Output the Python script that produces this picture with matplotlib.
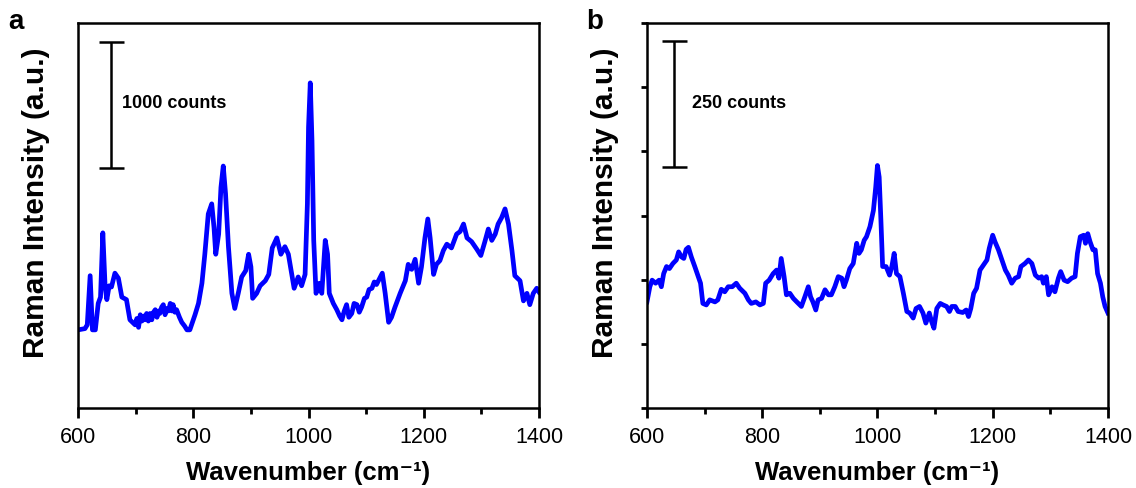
import matplotlib
matplotlib.use('Agg')
import matplotlib.pyplot as plt
from matplotlib.ticker import MultipleLocator

plt.rcParams['font.family'] = ['Liberation Sans', 'DejaVu Sans']

# panel a: wavenumber (cm-1) and counts
wn_a = [600, 612, 616, 621, 625, 630, 635, 639, 643, 647, 650, 654, 658, 664, 670,
        676, 684, 690, 699, 702, 705, 708, 711, 714, 716, 719, 722, 725, 728, 731,
        734, 737, 740, 742, 745, 748, 751, 754, 757, 760, 763, 765, 768, 771, 776,
        780, 785, 789,
        794, 803, 809, 815, 820, 826, 832, 836, 839, 844, 848, 852, 856, 861, 867,
        872, 878, 884, 891, 896, 900, 903, 910, 916, 925, 931, 937, 945, 952, 959,
        965, 971, 975, 982, 988, 994, 998, 1000, 1003, 1006, 1009, 1013, 1019, 1023,
        1029, 1033, 1036, 1043, 1049, 1054, 1058, 1062, 1066, 1070, 1075, 1079, 1084,
        1088, 1092, 1097, 1101, 1105, 1110, 1114, 1118,
        1128, 1133, 1139, 1144, 1150, 1159, 1168, 1173, 1179, 1185, 1191, 1196, 1202,
        1207, 1211, 1217, 1222, 1228, 1234, 1240, 1248, 1257, 1263, 1269, 1275, 1283,
        1292, 1299, 1306, 1312, 1318, 1324, 1329, 1335, 1341, 1347, 1353, 1358, 1367,
        1373, 1379, 1384, 1390, 1396, 1400]
counts_a = [620, 630, 660, 1050, 620, 620, 830, 880, 1390, 960, 860, 970, 960, 1070, 1030,
            880, 860, 700, 660, 710, 640, 740, 690, 730, 700, 750, 690, 750, 700, 760,
            780, 720, 770, 750, 800, 820, 740, 790, 770, 830, 770, 820, 760, 780, 720,
            680, 650, 620,
            620, 740, 830, 990, 1220, 1540, 1620, 1430, 1220, 1380, 1750, 1920, 1700, 1280, 910,
            790, 910, 1040, 1090, 1220, 1120, 870, 910, 970, 1010, 1060, 1270, 1350, 1220, 1280,
            1220, 1060, 950, 1040, 970, 1060, 1620, 2230, 2580, 2120, 1330, 910, 990, 910,
            1330, 1220, 910, 830, 780, 730, 700, 770, 820, 720, 750, 830, 820,
            760, 800, 870, 880, 940, 950, 1000, 980,
            1070, 910, 680, 720, 800, 910, 1010, 1140, 1100, 1180, 990, 1120, 1350,
            1500, 1350, 1060, 1140, 1170, 1250, 1300, 1270, 1380, 1400, 1460, 1350, 1320,
            1260, 1210, 1320, 1420, 1330, 1380, 1460, 1510, 1580, 1460, 1250, 1050, 1010,
            850, 910, 820, 910, 950, 920]

# panel b
wn_b = [600, 605, 609, 615, 621, 625, 629, 634, 639, 645, 651, 655, 660, 664, 668,
        672, 677, 683, 689, 693, 697, 703, 709, 718, 723, 729, 735, 741, 748, 755,
        761, 770, 776, 781, 789, 796, 802, 806, 812, 819, 825, 829, 833, 838, 842,
        848, 854, 860, 868, 874, 880, 884, 888, 893, 897, 903, 909, 915, 920, 926,
        932, 938, 942, 946, 952, 958, 964, 968, 972, 977, 981, 987, 993, 997, 1000,
        1003, 1006, 1009, 1015, 1021, 1025, 1029, 1033, 1039, 1045, 1051, 1056, 1062,
        1067, 1073, 1079, 1084, 1090, 1094, 1098, 1103, 1109, 1114, 1120, 1125, 1129,
        1135, 1140, 1148, 1154, 1158, 1162, 1167, 1172, 1178, 1184, 1190, 1194, 1200,
        1204, 1210, 1216, 1222, 1227, 1233, 1239, 1245, 1249, 1256, 1262, 1268, 1274,
        1280, 1285, 1288, 1293, 1297, 1303, 1308, 1314, 1318, 1324, 1330, 1337, 1343,
        1347, 1352, 1358, 1361, 1365, 1369, 1374, 1378, 1382, 1387, 1391, 1395, 1400]
counts_b = [210, 240, 253, 247, 253, 240, 266, 280, 276, 286, 293, 309, 299, 296, 314,
            318, 299, 280, 260, 247, 207, 204, 214, 210, 214, 235, 230, 240, 240, 247,
            237, 227, 214, 207, 210, 204, 207, 247, 253, 266, 273, 257, 296, 260, 224,
            227, 217, 210, 201, 220, 240, 220, 210, 194, 214, 217, 234, 224, 224, 240,
            260, 257, 240, 253, 276, 286, 326, 306, 313, 332, 339, 359, 391, 437, 480,
            457, 372, 280, 280, 263, 280, 306, 266, 260, 227, 191, 188, 178,
            197, 201, 188, 168, 188, 171, 158, 197, 207, 204, 201, 191, 201,
            201, 191, 189, 194, 181, 197, 227, 237, 273, 283, 293, 316, 342,
            329, 313, 293, 273, 263, 247, 257, 260, 280, 286, 293, 286, 263,
            257, 260, 247, 260, 224, 240, 230, 257, 270, 253, 250, 257, 260,
            306, 339, 342, 326, 345, 329, 313, 313, 266, 247, 220, 201, 188]

bar_a = [1908, 2908]
bar_b = [477, 727]

fig = plt.figure(figsize=(11.36, 4.89), dpi=100)
ax1 = fig.add_axes([0.0687, 0.1636, 0.4058, 0.7873])
ax2 = fig.add_axes([0.5695, 0.1636, 0.4058, 0.7873])

for ax, wn, cnt in [(ax1, wn_a, counts_a), (ax2, wn_b, counts_b)]:
    ax.plot(wn, cnt, color='#0000FF', lw=3.4, solid_joinstyle='round')
    ax.set_xlim(600, 1400)
    ax.xaxis.set_major_locator(MultipleLocator(200))
    ax.xaxis.set_minor_locator(MultipleLocator(100))
    ax.tick_params(axis='x', which='major', direction='out', length=7, width=2,
                   labelsize=15.5, pad=6)
    ax.tick_params(axis='x', which='minor', direction='out', length=4, width=2)
    for s in ax.spines.values():
        s.set_linewidth(1.8)
    ax.set_xlabel('Wavenumber (cm⁻¹)', fontsize=18.5, fontweight='bold', labelpad=9)
    ax.set_ylabel('Raman Intensity (a.u.)', fontsize=21.5, fontweight='bold')
    ax.yaxis.set_label_coords(-0.06, 0.535)

ax1.set_ylim(0, 3055)
ax1.set_yticks([])
ax2.set_ylim(0, 762)
ax2.set_yticks([0, 127, 254, 381, 508, 635, 762])
ax2.set_yticklabels([])
ax2.tick_params(axis='y', direction='out', length=4, width=2)

# scale bars
ax1.errorbar([657], [(bar_a[0] + bar_a[1]) / 2], yerr=[(bar_a[1] - bar_a[0]) / 2],
             color='black', lw=1.8, capsize=9, capthick=1.8)
ax1.text(676, 2421, '1000 counts', fontsize=13, fontweight='bold', va='center')
ax2.errorbar([647], [(bar_b[0] + bar_b[1]) / 2], yerr=[(bar_b[1] - bar_b[0]) / 2],
             color='black', lw=1.8, capsize=9, capthick=1.8)
ax2.text(678, 605, '250 counts', fontsize=13, fontweight='bold', va='center')

fig.text(0.007, 0.94, 'a', fontsize=20, fontweight='bold')
fig.text(0.516, 0.94, 'b', fontsize=20, fontweight='bold')

fig.savefig('out.png', dpi=100)
